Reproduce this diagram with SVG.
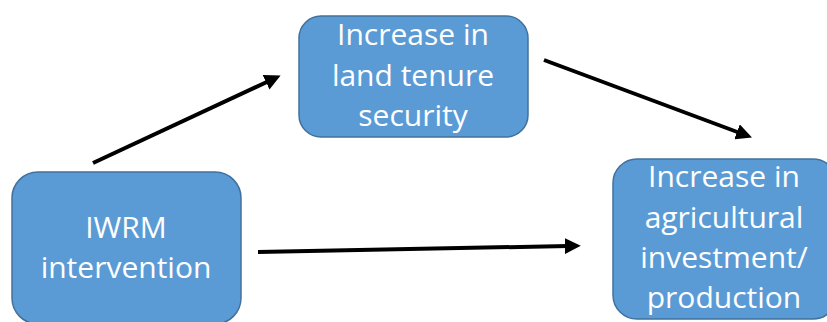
<svg xmlns="http://www.w3.org/2000/svg" width="827" height="322" viewBox="0 0 827 322">
<style>
.box{fill:#5B9BD5;stroke:#41719C;stroke-width:1.5}
.t{font-family:"Open Sans","Liberation Sans",Arial,sans-serif;font-size:30px;fill:#ffffff;text-anchor:middle}
.c{stroke:#000;stroke-width:4;fill:none;marker-end:url(#ah)}
</style>
<defs>
<marker id="ah" viewBox="0 0 10 10" refX="2" refY="5" markerWidth="4" markerHeight="4" orient="auto" markerUnits="strokeWidth">
<path d="M0,0 L10,5 L0,10 z" fill="#000"/>
</marker>
</defs>
<rect width="827" height="322" fill="#fff"/>
<g id="connectors">
<line class="c" x1="93" y1="163" x2="269" y2="81"/>
<line class="c" x1="544" y1="60" x2="740" y2="133"/>
<line class="c" x1="258" y1="252" x2="568" y2="246"/>
</g>
<g id="node-land">
<rect class="box" x="299" y="16" width="229" height="121" rx="22"/>
<text class="t" x="413" y="45">Increase in</text>
<text class="t" x="413" y="86">land tenure</text>
<text class="t" x="413" y="126">security</text>
</g>
<g id="node-iwrm">
<rect class="box" x="12" y="172" width="229" height="152" rx="26"/>
<text class="t" x="126" y="238">IWRM</text>
<text class="t" x="126" y="278">intervention</text>
</g>
<g id="node-agri">
<rect class="box" x="613" y="159" width="224" height="160" rx="24"/>
<text class="t" x="724" y="187">Increase in</text>
<text class="t" x="724" y="228">agricultural</text>
<text class="t" x="724" y="268">investment/</text>
<text class="t" x="724" y="308">production</text>
</g>
</svg>
